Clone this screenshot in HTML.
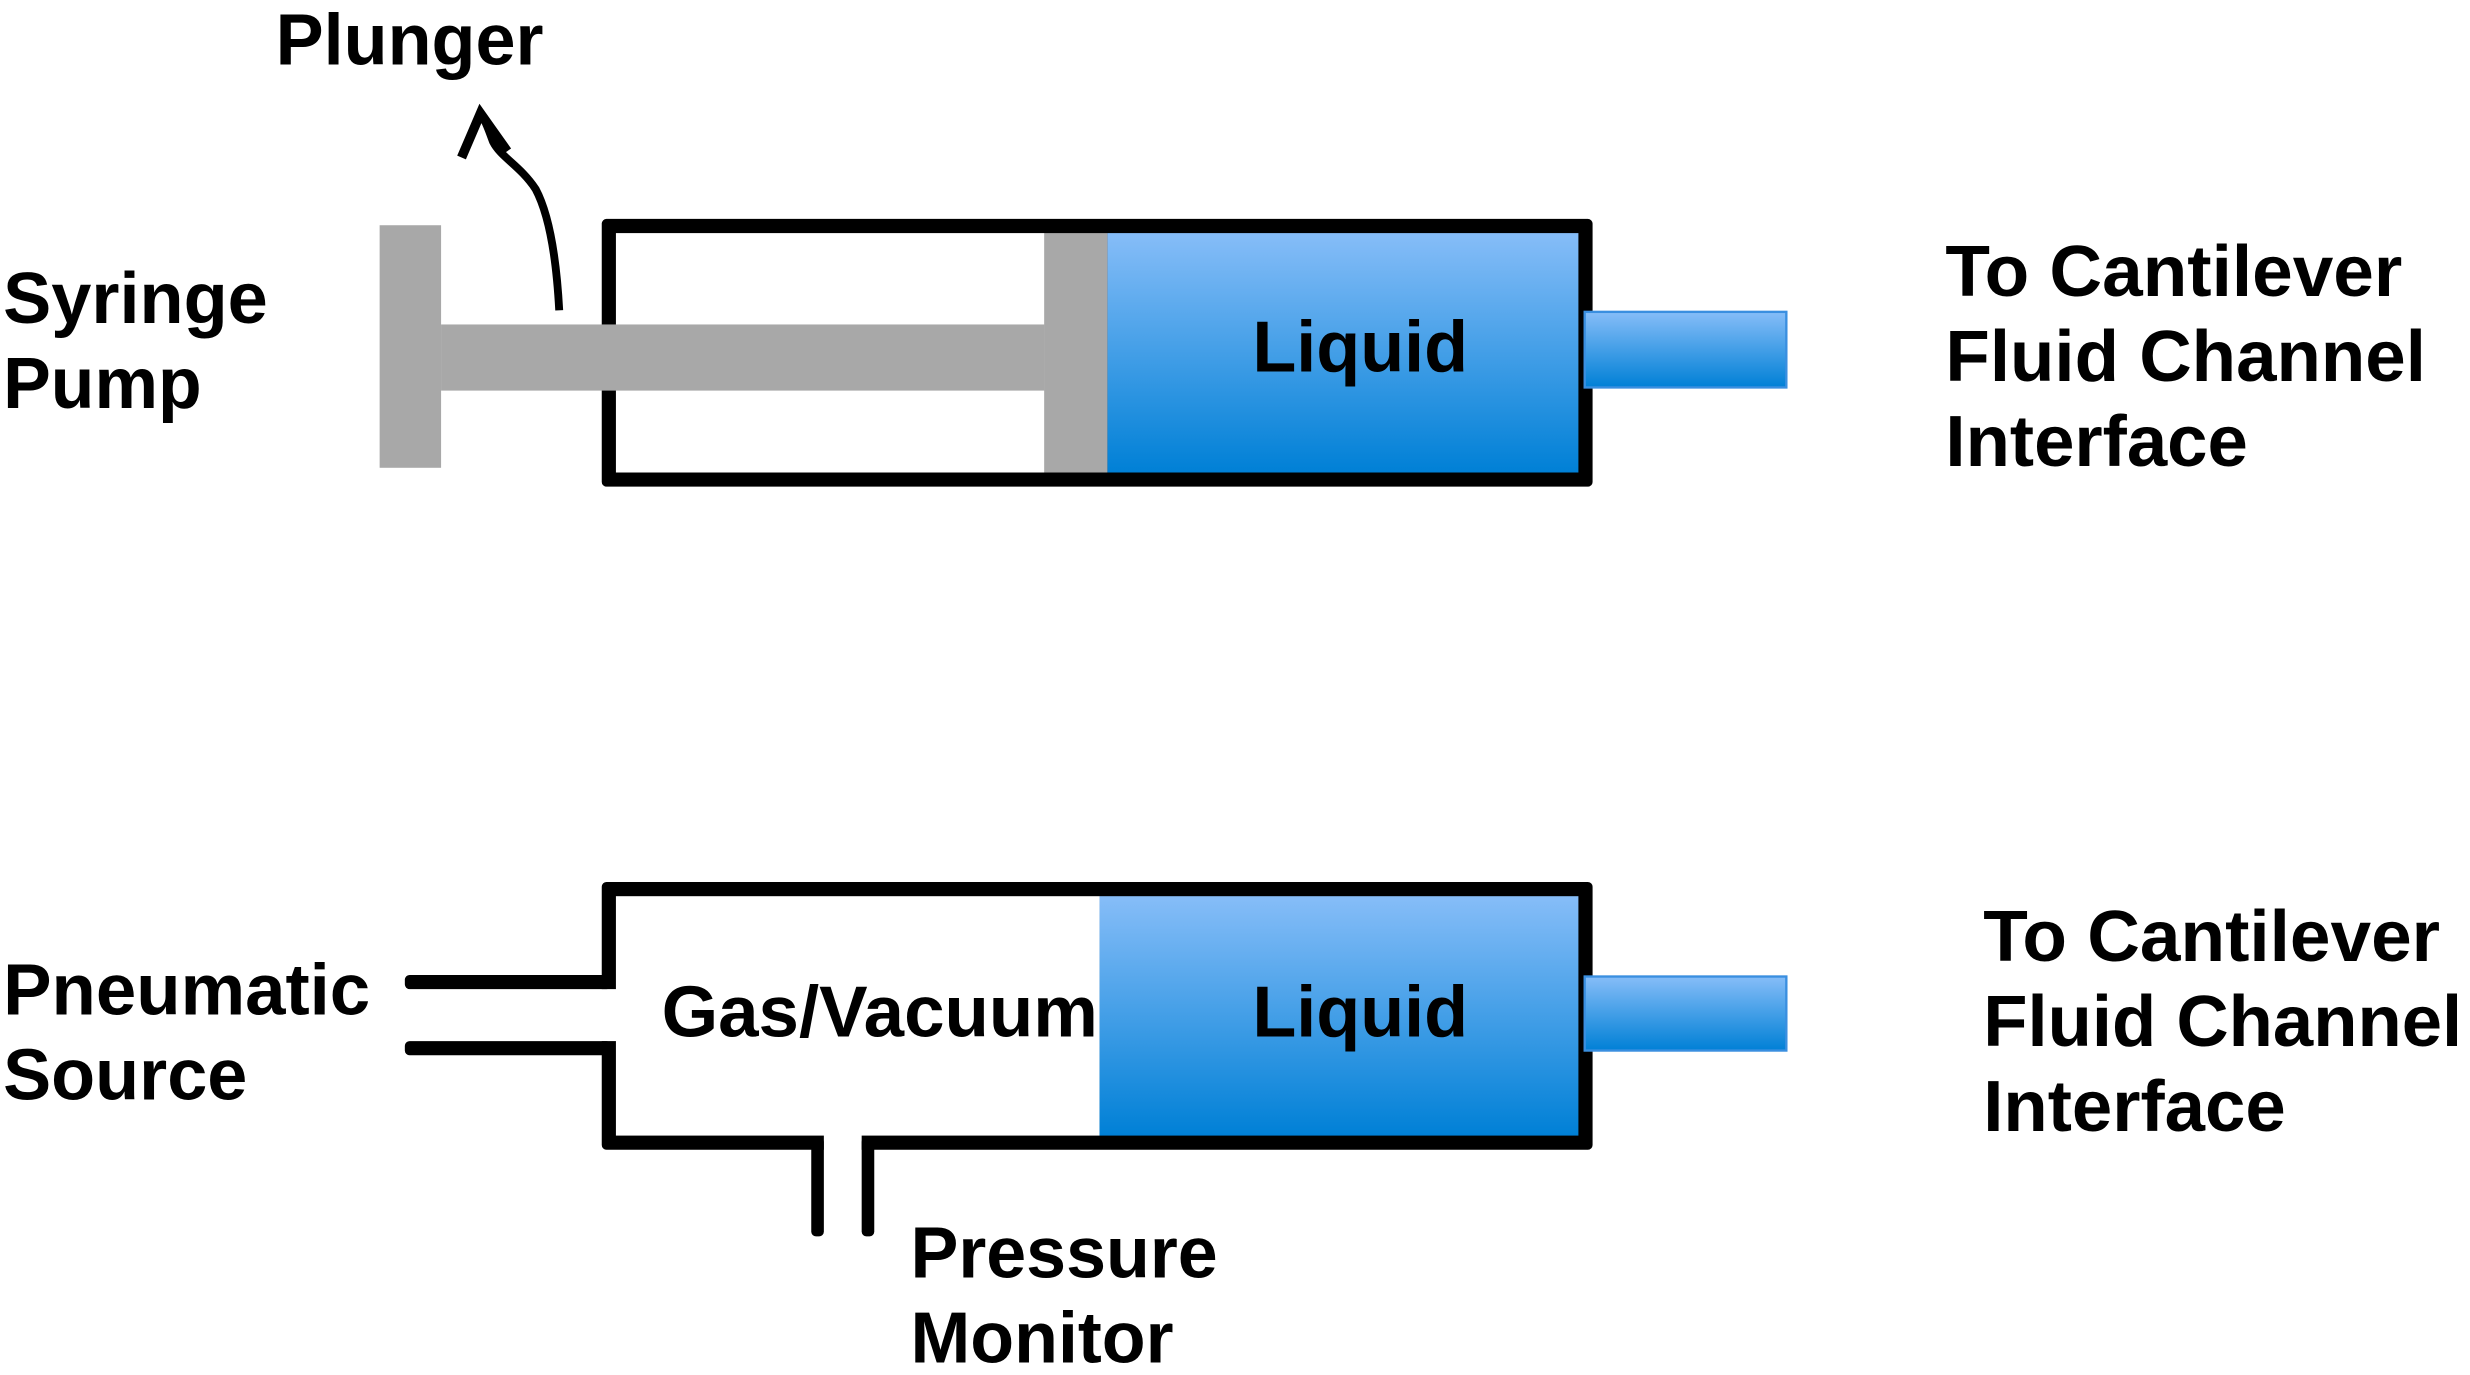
<!DOCTYPE html>
<html><head><style>html,body{margin:0;padding:0;background:#fff}svg{display:block}</style></head>
<body>
<svg width="2470" height="1375" viewBox="0 0 1568 873" preserveAspectRatio="none" xmlns="http://www.w3.org/2000/svg" font-family="Liberation Sans, Arial, sans-serif" font-weight="bold">
<defs>
<linearGradient id="b" x1="0" y1="0" x2="0" y2="1"><stop offset="0" stop-color="#86bdf8"/><stop offset="1" stop-color="#0080d6"/></linearGradient>
</defs>
<rect x="382" y="139" width="629" height="170" rx="3" fill="#000"/>
<rect x="391" y="148" width="272" height="152" fill="#fff"/>
<rect x="703" y="148" width="299" height="152" fill="url(#b)"/>
<rect x="663" y="148" width="40" height="152" fill="#a8a8a8"/>
<rect x="280" y="206" width="383" height="42" fill="#a8a8a8"/>
<rect x="241" y="143" width="39" height="154" fill="#a8a8a8"/>
<rect x="1006" y="198" width="128" height="48" fill="url(#b)" stroke="#3a8fe0" stroke-width="1.5"/>
<path d="M355 197 C353 160 348 135 340 120 C330 105 318 100 313 90 C310 82 308 76 306 74" fill="none" stroke="#000" stroke-width="5"/>
<path d="M293 100 L305 72 L322 96" fill="none" stroke="#000" stroke-width="6" stroke-linejoin="miter"/>
<g font-size="46">
<text x="175" y="41" textLength="170" lengthAdjust="spacingAndGlyphs">Plunger</text>
<text x="2" y="205" textLength="168" lengthAdjust="spacingAndGlyphs">Syringe</text>
<text x="2" y="259" textLength="126" lengthAdjust="spacingAndGlyphs">Pump</text>
<text x="795" y="236" textLength="137" lengthAdjust="spacingAndGlyphs">Liquid</text>
<text x="1235" y="188" textLength="290" lengthAdjust="spacingAndGlyphs">To Cantilever</text>
<text x="1235" y="242" textLength="305" lengthAdjust="spacingAndGlyphs">Fluid Channel</text>
<text x="1235" y="296" textLength="192" lengthAdjust="spacingAndGlyphs">Interface</text>
</g>
<rect x="382" y="560" width="629" height="170" rx="3" fill="#000"/>
<rect x="391" y="569" width="307" height="152" fill="#fff"/>
<rect x="698" y="569" width="304" height="152" fill="url(#b)"/>
<rect x="1006" y="620" width="128" height="47" fill="url(#b)" stroke="#3a8fe0" stroke-width="1.5"/>
<rect x="377" y="628" width="16" height="33" fill="#fff"/>
<rect x="257" y="619" width="131" height="9" rx="3" fill="#000"/>
<rect x="257" y="661" width="131" height="9" rx="3" fill="#000"/>
<rect x="523" y="718" width="24" height="14" fill="#fff"/>
<rect x="515" y="722" width="8" height="63" rx="3" fill="#000"/>
<rect x="547" y="722" width="8" height="63" rx="3" fill="#000"/>
<g font-size="46">
<text x="2" y="644" textLength="233" lengthAdjust="spacingAndGlyphs">Pneumatic</text>
<text x="2" y="698" textLength="155" lengthAdjust="spacingAndGlyphs">Source</text>
<text x="420" y="658" textLength="277" lengthAdjust="spacingAndGlyphs">Gas/Vacuum</text>
<text x="795" y="658" textLength="137" lengthAdjust="spacingAndGlyphs">Liquid</text>
<text x="1259" y="610" textLength="290" lengthAdjust="spacingAndGlyphs">To Cantilever</text>
<text x="1259" y="664" textLength="304" lengthAdjust="spacingAndGlyphs">Fluid Channel</text>
<text x="1259" y="718" textLength="192" lengthAdjust="spacingAndGlyphs">Interface</text>
<text x="578" y="811" textLength="195" lengthAdjust="spacingAndGlyphs">Pressure</text>
<text x="578" y="865" textLength="167" lengthAdjust="spacingAndGlyphs">Monitor</text>
</g>
</svg>
</body></html>
